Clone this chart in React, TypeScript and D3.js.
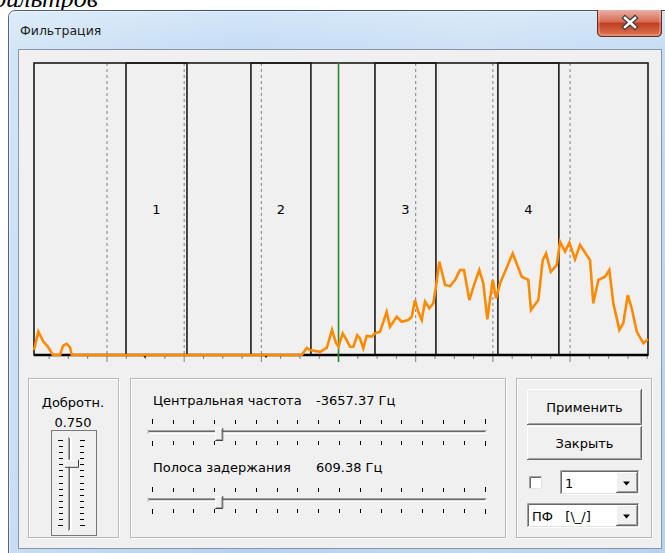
import React from 'react';
import * as d3 from 'd3';

// spectrum: x in grid divisions (dashed lines at integers), amplitude 0..1
const specX = [-0.946, -0.89, -0.825, -0.765, -0.717, -0.7, -0.609, -0.57, -0.525, -0.479, -0.457,
  2.523, 2.588, 2.631, 2.76, 2.847, 2.916, 2.967, 3.0,
  3.054, 3.106, 3.149, 3.192, 3.243, 3.278, 3.321, 3.365, 3.43, 3.473, 3.538,
  3.624, 3.667, 3.754, 3.819, 3.904, 3.948, 3.991, 4.034, 4.078, 4.121, 4.177, 4.228,
  4.263, 4.306, 4.38, 4.445, 4.51, 4.575, 4.626, 4.695, 4.756, 4.824, 4.876, 4.928,
  4.998, 5.041, 5.093, 5.157, 5.257, 5.374, 5.459, 5.494, 5.589, 5.646, 5.689, 5.75, 5.827,
  5.87, 5.935, 5.991, 6.064, 6.129, 6.259, 6.301, 6.367, 6.453, 6.509,
  6.561, 6.639, 6.69, 6.748, 6.799, 6.864, 6.95, 7.01];
const specAmp = [0.017, 0.08, 0.046, 0.028, 0.007, 0, 0, 0.031, 0.038, 0.027, 0,
  0, 0.024, 0.017, 0.011, 0.024, 0.086, 0.041, 0.029,
  0.074, 0.051, 0.028, 0.028, 0.068, 0.057, 0.023, 0.065, 0.063, 0.074, 0.08,
  0.148, 0.097, 0.131, 0.114, 0.12, 0.131, 0.188, 0.148, 0.12, 0.183, 0.16, 0.177,
  0.234, 0.32, 0.24, 0.236, 0.257, 0.291, 0.291, 0.188, 0.24, 0.291, 0.246, 0.122,
  0.257, 0.194, 0.246, 0.285, 0.348, 0.268, 0.257, 0.154, 0.188, 0.325, 0.348, 0.285, 0.308,
  0.388, 0.354, 0.385, 0.328, 0.377, 0.325, 0.177, 0.257, 0.268, 0.291,
  0.177, 0.086, 0.109, 0.205, 0.16, 0.08, 0.04, 0.054];

const bandLo = [0.246, 1.865, 3.472, 5.065];
const bandHi = [1.036, 2.642, 4.262, 5.855];
const bandNames = ['1', '2', '3', '4'];
const gridDiv = [0, 1, 2, 3, 4, 5, 6];
const centerDiv = 3;
const markerDiv = [0.49, 2.06];

const qLabel = '0.750';
const centerLabel = 'Центральная частота';
const centerValue = '-3657.37 Гц';
const stopLabel = 'Полоса задержания';
const stopValue = '609.38 Гц';
const sliderPos = [0.2, 0.2]; // fraction of track
const qPos = 0.27;
const comboValues = ['1', 'ПФ\u00a0\u00a0\u00a0[\\_/]'];

const UI_FONT = '"DejaVu Sans", "Noto Sans", sans-serif';

const HSlider = ({ x0, x1, t, value }) => {
  const tx = d3.scaleLinear().domain([0, 16]).range([x0, x1]);
  const ticks = d3.range(17);
  const tv = x0 + (x1 - x0) * value;
  return (
    <g>
      {ticks.map(i => {
        const long = i === 0 || i === 16;
        return (
          <g key={i} stroke="#000" strokeWidth={1}>
            <line x1={Math.round(tx(i)) + 0.5} x2={Math.round(tx(i)) + 0.5} y1={long ? t - 1 : t} y2={t + 4} />
            <line x1={Math.round(tx(i)) + 0.5} x2={Math.round(tx(i)) + 0.5} y1={t + 21} y2={long ? t + 26 : t + 25} />
          </g>
        );
      })}
      <rect x={x0 - 4} y={t + 10} width={x1 - x0 + 6} height={4} fill="#fff" />
      <line x1={x0 - 4} x2={x1 + 2} y1={t + 10.5} y2={t + 10.5} stroke="#a0a0a0" />
      <line x1={x0 - 3} x2={x1 + 1} y1={t + 11.5} y2={t + 11.5} stroke="#696969" />
      <line x1={x0 - 3.5} x2={x0 - 3.5} y1={t + 10} y2={t + 14} stroke="#a0a0a0" />
      <line x1={x0 - 3} x2={x1 + 2} y1={t + 13.5} y2={t + 13.5} stroke="#fff" />
      <line x1={x0 - 3} x2={x1 + 1} y1={t + 12.5} y2={t + 12.5} stroke="#e3e3e3" />
      <g>
        <rect x={tv - 3} y={t + 8} width={7} height={12} fill="#f0f0f0" />
        <path d={`M${tv - 2.5},${t + 19.5} V${t + 8.5} H${tv + 3.5}`} fill="none" stroke="#fff" />
        <path d={`M${tv - 3},${t + 20.5} H${tv + 4.5} V${t + 8}`} fill="none" stroke="#404040" />
        <path d={`M${tv - 2},${t + 19.5} H${tv + 3.5} V${t + 9}`} fill="none" stroke="#a0a0a0" />
      </g>
    </g>
  );
};

const Button = ({ x, y, w, h, label }) => (
  <g>
    <rect x={x} y={y} width={w} height={h} fill="#f0f0f0" />
    <path d={`M${x + 0.5},${y + h - 1} V${y + 0.5} H${x + w - 1}`} fill="none" stroke="#fff" />
    <path d={`M${x},${y + h - 0.5} H${x + w - 0.5} V${y}`} fill="none" stroke="#696969" />
    <path d={`M${x + 1.5},${y + h - 1.5} H${x + w - 1.5} V${y + 1}`} fill="none" stroke="#a0a0a0" />
    <text x={x + w / 2} y={y + h / 2 + 5} textAnchor="middle" fontFamily={UI_FONT} fontSize={13} fill="#000">{label}</text>
  </g>
);

const Combo = ({ x, y, w, h, label }) => {
  const bx = x + w - 24;
  return (
    <g>
      <rect x={x} y={y} width={w} height={h} fill="#fff" />
      <path d={`M${x + 0.5},${y + h} V${y + 0.5} H${x + w}`} fill="none" stroke="#a0a0a0" />
      <path d={`M${x + 1.5},${y + h - 1} V${y + 1.5} H${x + w - 1}`} fill="none" stroke="#696969" />
      <path d={`M${x},${y + h - 0.5} H${x + w - 0.5} V${y}`} fill="none" stroke="#fff" />
      <path d={`M${x + 1},${y + h - 1.5} H${x + w - 1.5} V${y + 1}`} fill="none" stroke="#e3e3e3" />
      <Button x={bx} y={y + 2} w={22} h={h - 4} label="" />
      <path d={`M${bx + 7},${y + h / 2 - 1} h7 l-3.5,4 z`} fill="#000" />
      <text x={x + 5} y={y + h / 2 + 5} fontFamily={UI_FONT} fontSize={13} fill="#000">{label}</text>
    </g>
  );
};

const GroupBox = ({ x, y, w, h }) => (
  <g fill="none">
    <rect x={x + 1.5} y={y + 1.5} width={w - 1} height={h - 1} stroke="#fff" />
    <rect x={x + 0.5} y={y + 0.5} width={w - 1} height={h - 1} stroke="#b8b8b8" />
  </g>
);

const App = () => {
  const left = 34, right = 648, top = 63, bottom = 355;
  const x = d3.scaleLinear().domain([-0.946, 7.01]).range([left, right]);
  const y = d3.scaleLinear().domain([0, 1]).range([bottom, top]);
  const pts = specX.map((v, i) => [v, specAmp[i]]);
  const line = d3.line().x(d => x(d[0])).y(d => y(d[1]));
  const minor = d3.range(-0.75, 7.01, 0.25);

  const qTicks = d3.range(15);
  const qy = d3.scaleLinear().domain([0, 14]).range([440, 525]);
  const qThumb = 438 + (530 - 438) * qPos;

  return (
    <div style={{ position: 'absolute', left: 0, top: 0 }}>
      <svg width={665} height={553} style={{ display: 'block', background: '#fff' }}>
        <defs>
          <linearGradient id="frame" x1="0" y1="0" x2="0" y2="1">
            <stop offset="0" stopColor="#d3e6f8" />
            <stop offset="0.08" stopColor="#c3dcf4" />
            <stop offset="1" stopColor="#b5d2ef" />
          </linearGradient>
          <linearGradient id="frameH" x1="0" y1="0" x2="1" y2="0">
            <stop offset="0" stopColor="#fff" stopOpacity="0.25" />
            <stop offset="0.35" stopColor="#fff" stopOpacity="0" />
            <stop offset="0.7" stopColor="#fff" stopOpacity="0.15" />
            <stop offset="1" stopColor="#fff" stopOpacity="0" />
          </linearGradient>
          <linearGradient id="close" x1="0" y1="0" x2="0" y2="1">
            <stop offset="0" stopColor="#eab1a3" />
            <stop offset="0.45" stopColor="#d66a52" />
            <stop offset="0.5" stopColor="#c23c1f" />
            <stop offset="1" stopColor="#dc7a55" />
          </linearGradient>
        </defs>

        {/* partially visible text above the window */}
        <text x={98} y={7} textAnchor="end" fontFamily='"Liberation Serif", serif' fontStyle="italic" fontSize={26} fill="#000">фильтров</text>

        {/* window frame */}
        <path d="M8.5,560 V18 Q8.5,10.5 16,10.5 H680 V560 Z" fill="url(#frame)" stroke="#3d4f63" />
        <path d="M8.5,560 V18 Q8.5,10.5 16,10.5 H680 V560 Z" fill="url(#frameH)" />
        <path d="M9.5,560 V18 Q9.5,11.5 16,11.5 H680" fill="none" stroke="#eaf3fc" strokeOpacity="0.8" />
        <text x={20} y={35} fontFamily={UI_FONT} fontSize={12.5} fill="#1e1e1e">Фильтрация</text>

        {/* close button */}
        <path d="M597.5,10 V32 Q597.5,36.5 602,36.5 H657 Q661.5,36.5 661.5,32 V10" fill="url(#close)" stroke="#6d2b1f" />
        <path d="M599,11 V31 Q599,35 603,35 H656 Q660,35 660,31 V11" fill="none" stroke="#f3c8bc" strokeOpacity="0.6" />
        <g strokeLinecap="square">
          <path d="M625,18 L635,27 M635,18 L625,27" stroke="#3b3b3b" strokeWidth={5} />
          <path d="M625,18 L635,27 M635,18 L625,27" stroke="#fff" strokeWidth={2.6} />
        </g>

        {/* client area */}
        <rect x={18.5} y={49.5} width={643} height={499} fill="#f0f0f0" stroke="#8797a8" />

        {/* plot */}
        <g>
          {gridDiv.map(d => (
            <g key={d} stroke="#808080" strokeWidth={1}>
              <line x1={x(d)} x2={x(d)} y1={top} y2={bottom} strokeDasharray="3,3" />
              <line x1={x(d)} x2={x(d)} y1={bottom} y2={bottom + 7} />
            </g>
          ))}
          {minor.filter(m => !gridDiv.includes(m)).map(m => (
            <line key={m} x1={x(m)} x2={x(m)} y1={bottom} y2={bottom + 4} stroke="#808080" strokeWidth={1} />
          ))}
          {bandLo.map((lo, i) => (
            <g key={i}>
              <rect x={x(lo)} y={top} width={x(bandHi[i]) - x(lo)} height={bottom - top} fill="none" stroke="#1a1a1a" strokeWidth={1.6} />
              <text x={(x(lo) + x(bandHi[i])) / 2} y={(top + bottom) / 2 + 5} textAnchor="middle" fontFamily={UI_FONT} fontSize={13} fill="#000">{bandNames[i]}</text>
            </g>
          ))}
          <rect x={left} y={top} width={right - left} height={bottom - top} fill="none" stroke="#1a1a1a" strokeWidth={1.6} />
          <line x1={left} x2={right} y1={bottom} y2={bottom} stroke="#000" strokeWidth={2.5} />
          {markerDiv.map(m => (
            <path key={m} d={`M${x(m) - 3},${bottom - 1} h6 l-3,4 z`} fill="#000" />
          ))}
          <line x1={x(centerDiv)} x2={x(centerDiv)} y1={top} y2={bottom + 7} stroke="#2e8b2e" strokeWidth={1.6} />
          <path d={line(pts)} fill="none" stroke="#ff8a00" strokeWidth={2.6} strokeLinejoin="miter" />
        </g>

        {/* Q group */}
        <GroupBox x={28} y={378} w={91} h={160} />
        <text x={73} y={407} textAnchor="middle" fontFamily={UI_FONT} fontSize={13} fill="#000">Добротн.</text>
        <text x={73} y={427} textAnchor="middle" fontFamily={UI_FONT} fontSize={13} fill="#000">{qLabel}</text>
        <rect x={51.5} y={430.5} width={45} height={105} fill="none" stroke="#000" strokeDasharray="1,1" />
        {qTicks.map(i => (
          <g key={i} stroke="#000">
            <line x1={i === 0 || i === 14 ? 58 : 59} x2={63} y1={Math.round(qy(i)) + 0.5} y2={Math.round(qy(i)) + 0.5} />
            <line x1={80} x2={i === 0 || i === 14 ? 85 : 84} y1={Math.round(qy(i)) + 0.5} y2={Math.round(qy(i)) + 0.5} />
          </g>
        ))}
        <rect x={68} y={437} width={4} height={94} fill="#fff" />
        <line x1={68.5} x2={68.5} y1={437} y2={531} stroke="#a0a0a0" />
        <line x1={69.5} x2={69.5} y1={438} y2={530} stroke="#696969" />
        <line x1={71.5} x2={71.5} y1={437} y2={531} stroke="#fff" />
        <rect x={65} y={qThumb - 3} width={13} height={7} fill="#f0f0f0" />
        <path d={`M65.5,${qThumb + 3} V${qThumb - 2.5} H77`} fill="none" stroke="#fff" />
        <path d={`M65,${qThumb + 4.5} H78.5 V${qThumb - 3}`} fill="none" stroke="#404040" />

        {/* frequency group */}
        <GroupBox x={130} y={378} w={376} h={160} />
        <text x={153} y={405} fontFamily={UI_FONT} fontSize={13} fill="#000">{centerLabel}</text>
        <text x={316} y={405} fontFamily={UI_FONT} fontSize={13} fill="#000">{centerValue}</text>
        <HSlider x0={151.7} x1={484.5} t={420} value={sliderPos[0]} />
        <text x={153} y={472} fontFamily={UI_FONT} fontSize={13} fill="#000">{stopLabel}</text>
        <text x={316} y={472} fontFamily={UI_FONT} fontSize={13} fill="#000">{stopValue}</text>
        <HSlider x0={151.7} x1={484.5} t={488} value={sliderPos[1]} />

        {/* buttons group */}
        <GroupBox x={516} y={378} w={136} h={160} />
        <Button x={527} y={389} w={115} h={36} label="Применить" />
        <Button x={527} y={426} w={115} h={34} label="Закрыть" />
        <rect x={529} y={476} width={13} height={13} fill="#fff" />
        <path d="M529.5,489 V476.5 H542" fill="none" stroke="#a0a0a0" />
        <path d="M530.5,488 V477.5 H541" fill="none" stroke="#696969" />
        <path d="M529,488.5 H541.5 V476" fill="none" stroke="#e3e3e3" />
        <Combo x={560} y={470} w={80} h={25} label={comboValues[0]} />
        <Combo x={527} y={503} w={113} h={25} label={comboValues[1]} />
      </svg>
    </div>
  );
};

export default App;
